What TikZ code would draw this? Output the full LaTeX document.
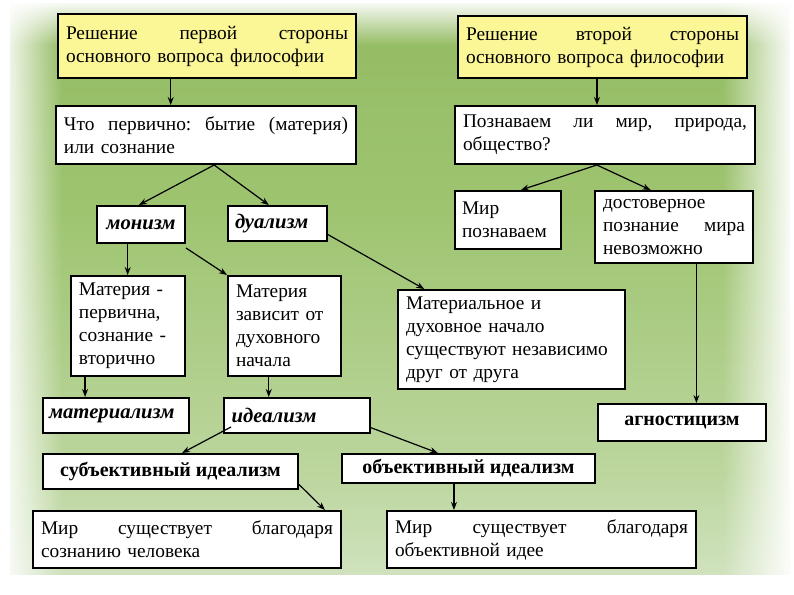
\documentclass[tikz,border=0pt]{standalone}
\usepackage{fontspec}
\setmainfont{Liberation Serif}
\usetikzlibrary{arrows.meta,calc,fadings}
\definecolor{boxyellow}{RGB}{251,246,150}
\definecolor{gA}{RGB}{134,177,84}
\definecolor{gB}{RGB}{142,183,93}
\definecolor{gC}{RGB}{158,196,112}
\definecolor{gD}{RGB}{188,214,158}
\definecolor{gE}{RGB}{214,230,200}
\definecolor{gF}{RGB}{238,243,232}
\definecolor{gG}{RGB}{255,255,255}
\pgfdeclareverticalshading{bgsh}{100bp}{color(0bp)=(gG); color(8bp)=(gF); color(22bp)=(gE); color(34bp)=(gD); color(57bp)=(gC); color(83bp)=(gB); color(100bp)=(gA)}
\begin{document}
\begin{tikzpicture}[x=0.75pt,y=-0.75pt,
  bx/.style={draw=black, line width=1.5pt, fill=white, inner sep=0pt, anchor=north west, align=left, font=\fontsize{14.5}{17.2}\selectfont},
  yb/.style={bx, fill=boxyellow},
  ctr/.style={bx, align=center},
  bi/.style={font=\fontsize{15.5}{17}\selectfont\bfseries\itshape},
  bb/.style={font=\fontsize{15}{17}\selectfont\bfseries},
  ar/.style={-{Stealth[length=6pt,width=4.5pt]}, line width=0.9pt}]
\useasboundingbox (0,0) rectangle (794,595);
% background
\fill[white] (0,0) rectangle (794,595);
\shade[shading=bgsh] (10,4) rectangle (790,575);
\fill[white, path fading=east] (0,0) rectangle (62,595);
\fill[white, path fading=west] (722,0) rectangle (794,595);
\fill[white, path fading=south] (0,0) rectangle (794,45);
% nodes
\node[yb, minimum width=223.5pt, minimum height=48pt, text width=211.5pt] (y1) at (57,13)
  {Решение\hfill первой\hfill стороны\\основного вопроса философии};
\node[yb, minimum width=216.75pt, minimum height=46.5pt, text width=204.75pt] (y2) at (457,15)
  {Решение\hfill второй\hfill стороны\\основного вопроса философии};
\node[bx, minimum width=225pt, minimum height=43.5pt, text width=213pt] (q1) at (55,105)
  {Что\hfill первично:\hfill бытие\hfill (материя)\\или сознание};
\node[bx, minimum width=225pt, minimum height=43.5pt, text width=213pt] (q2) at (454,105)
  {Познаваем\hfill ли\hfill мир,\hfill природа,\\общество?};
\node[ctr, bi, minimum width=66pt, minimum height=27.75pt] (mon) at (96,205)
  {монизм};
\node[bx, bi, minimum width=74.25pt, minimum height=26.25pt, text width=63.75pt] (dual) at (227,205)
  {дуализм};
\node[bx, minimum width=79.5pt, minimum height=43.5pt, text width=69pt] (mp) at (454,190)
  {Мир\\познаваем};
\node[bx, minimum width=118.5pt, minimum height=54pt, text width=106.5pt] (dost) at (594,190)
  {достоверное\\познание\hfill мира\\невозможно};
\node[bx, minimum width=85.5pt, minimum height=75pt, text width=73.5pt] (mat1) at (70,275)
  {Материя -\\первична,\\сознание -\\вторично};
\node[bx, minimum width=84.75pt, minimum height=75pt, text width=72.75pt] (mat2) at (227,275)
  {Материя\\зависит от\\духовного\\начала};
\node[bx, minimum width=170.25pt, minimum height=74.25pt, text width=158.25pt] (mdn) at (397,289)
  {Материальное и\\духовное начало\\существуют независимо\\друг от друга};
\node[bx, bi, minimum width=109.5pt, minimum height=26.25pt, text width=100.5pt] (mtz) at (42,397)
  {материализм};
\node[bx, bi, minimum width=109.5pt, minimum height=26.25pt, text width=98pt] (idz) at (223,397)
  {идеализм};
\node[ctr, bb, minimum width=126pt, minimum height=27.75pt] (agn) at (597,403)
  {агностицизм};
\node[ctr, bb, minimum width=191.25pt, minimum height=26.25pt] (sub) at (42,453)
  {субъективный идеализм};
\node[ctr, bb, minimum width=189.75pt, minimum height=21.75pt] (obj) at (341,453)
  {объективный идеализм};
\node[bx, minimum width=231pt, minimum height=42.75pt, text width=219pt] (w1) at (32,510)
  {Мир\hfill существует\hfill благодаря\\сознанию человека};
\node[bx, minimum width=231.75pt, minimum height=42.75pt, text width=219.75pt] (w2) at (386,510)
  {Мир\hfill существует\hfill благодаря\\объективной идее};
% connectors
\coordinate (c1) at ($(y1.south west)!0.379!(y1.south east)$);
\draw[ar] (c1) -- (c1 |- q1.north);
\coordinate (c2) at ($(y2.south west)!0.481!(y2.south east)$);
\draw[ar] (c2) -- (c2 |- q2.north);
\coordinate (c3) at ($(q1.south west)!0.527!(q1.south east)$);
\draw[ar] (c3) -- ($(mon.north west)!0.477!(mon.north east)$);
\draw[ar] (c3) -- ($(dual.north west)!0.414!(dual.north east)$);
\coordinate (c4) at ($(q2.south west)!0.473!(q2.south east)$);
\draw[ar] (c4) -- ($(mp.north west)!0.62!(mp.north east)$);
\draw[ar] (c4) -- ($(dost.north west)!0.354!(dost.north east)$);
\coordinate (c5) at ($(mon.south west)!0.352!(mon.south east)$);
\draw[ar] (c5) -- (c5 |- mat1.north);
\draw[ar] ([yshift=-3pt]mon.south east) -- (mat2.north west);
\draw[ar] ($(dual.north east)!0.8!(dual.south east)$) -- ($(mdn.north west)!0.119!(mdn.north east)$);
\coordinate (c6) at ($(mat1.south west)!0.13!(mat1.south east)$);
\draw[ar] (c6) -- (c6 |- mtz.north);
\coordinate (c7) at ($(mat2.south west)!0.363!(mat2.south east)$);
\draw[ar] (c7) -- (c7 |- idz.north);
\coordinate (c8) at ($(dost.south west)!0.64!(dost.south east)$);
\draw[ar] (c8) -- (c8 |- agn.north);
\coordinate (c9) at ([xshift=6pt,yshift=5.25pt]idz.south west);
\draw[ar] (c9) -- ($(sub.north west)!0.545!(sub.north east)$);
\draw[ar] ($(idz.north east)!0.83!(idz.south east)$) -- ($(obj.north west)!0.38!(obj.north east)$);
\draw[ar] ($(sub.north east)!0.85!(sub.south east)$) -- ($(w1.north west)!0.945!(w1.north east)$);
\coordinate (c10) at ($(obj.south west)!0.443!(obj.south east)$);
\draw[ar] (c10) -- (c10 |- w2.north);
\end{tikzpicture}
\end{document}
